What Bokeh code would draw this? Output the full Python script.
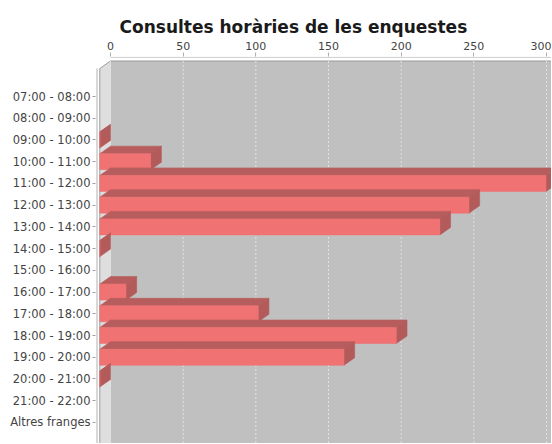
from bokeh.plotting import figure
from bokeh.models import ColumnDataSource, FixedTicker, Range1d
from bokeh.embed import file_html
from bokeh.resources import INLINE

# ---- data ----
categories = ["07:00 - 08:00", "08:00 - 09:00", "09:00 - 10:00", "10:00 - 11:00",
              "11:00 - 12:00", "12:00 - 13:00", "13:00 - 14:00", "14:00 - 15:00",
              "15:00 - 16:00", "16:00 - 17:00", "17:00 - 18:00", "18:00 - 19:00",
              "19:00 - 20:00", "20:00 - 21:00", "21:00 - 22:00", "Altres franges"]
values = [None, None, 0, 35, 307, 254, 234, 0, None, 18, 109, 204, 168, 0, None, None]
x_ticks = [0, 50, 100, 150, 200, 250, 300]
title_text = "Consultes horàries de les enquestes"

# ---- layout constants (pixels) ----
ORIGIN = 1                          # observed page offset of the figure
W, H = 551, 443
FRAME_L, FRAME_T = 96, 57          # page coords of frame left / top
PAGE_R, PAGE_B = 552, 444
ZERO_X = 111                        # page x of value 0 on back plane
FIRST_Y = 97                        # page y of first category
PX_PER_UNIT = 1.4533
PX_PER_CAT = 21.73
DEPTH_PX_X, DEPTH_PX_Y = 10.7, 7.5
BAR_PX = 16.0

x_start = -(ZERO_X - FRAME_L) / PX_PER_UNIT
x_end = (PAGE_R - ZERO_X) / PX_PER_UNIT
y_top = -(FIRST_Y - FRAME_T) / PX_PER_CAT
y_bot = (PAGE_B - FIRST_Y) / PX_PER_CAT

dx = DEPTH_PX_X / PX_PER_UNIT
dy = DEPTH_PX_Y / PX_PER_CAT
hh = BAR_PX / PX_PER_CAT / 2

p = figure(width=W, height=H, x_range=Range1d(x_start, x_end),
           y_range=Range1d(y_bot, y_top), output_backend="svg",
           toolbar_location=None, x_axis_location="above",
           min_border_left=FRAME_L - ORIGIN, min_border_right=0,
           min_border_top=FRAME_T - ORIGIN, min_border_bottom=0)
p.outline_line_color = None
p.background_fill_color = "white"
p.border_fill_color = "white"
p.xgrid.visible = False
p.ygrid.visible = False

p.title.text = title_text
p.title.align = "left"
p.title.offset = 24
p.title.text_font = "DejaVu Sans"
p.title.text_font_size = "17px"
p.title.text_font_style = "bold"
p.title.text_color = "#1a1a1a"
p.title.standoff = 3

# walls
front_top = y_top + (69 - FRAME_T) / PX_PER_CAT
back_top = front_top - dy
p.patch([0, x_end + 5, x_end + 5, 0], [back_top, back_top, y_bot + 1, y_bot + 1],
        fill_color="#c0c0c0", line_color=None)
p.patch([-dx, 0, 0, -dx], [front_top, back_top, y_bot + 1, y_bot + 1],
        fill_color="#dedede", line_color=None)
p.line([-dx, -dx, 0, x_end + 5], [y_bot + 1, front_top, back_top, back_top],
       line_color="#9a9a9a", line_width=1)

# gridlines on back wall
p.segment(x0=x_ticks, y0=[back_top] * len(x_ticks), x1=x_ticks, y1=[y_bot + 1] * len(x_ticks),
          line_color="#e2e2e2", line_dash="2 2", line_width=1)

# axis lines drawn manually
ax_x = x_start + 1.5 / PX_PER_UNIT
p.line([ax_x, ax_x], [front_top, y_bot + 1], line_color="#b0b0b0", line_width=1)
ax_y = y_top + 0.8 / PX_PER_CAT
p.line([0, x_end + 5], [ax_y, ax_y], line_color="#c8c8c8", line_width=1)

# 3D bars
xs, ys, fills = [], [], []
TOP_C, SIDE_C, FRONT_C = "#b75d5d", "#b35a5a", "#f07272"
for i, v in enumerate(values):
    if v is None:
        continue
    t, b = i - hh, i + hh
    xs.append([-dx, 0, v, v - dx]); ys.append([t, t - dy, t - dy, t]); fills.append(TOP_C)
    xs.append([v - dx, v, v, v - dx]); ys.append([t, t - dy, b - dy, b]); fills.append(SIDE_C)
    xs.append([-dx, v - dx, v - dx, -dx]); ys.append([t, t, b, b]); fills.append(FRONT_C)

src = ColumnDataSource(dict(xs=xs, ys=ys, fill=fills))
p.patches("xs", "ys", source=src, fill_color="fill", line_color="fill", line_width=0.6)

# axes styling
xa = p.xaxis[0]
xa.ticker = FixedTicker(ticks=x_ticks)
xa.axis_line_color = None
xa.major_tick_in = 0
xa.major_tick_out = 4
xa.minor_tick_line_color = None
xa.major_tick_line_color = "#b0b0b0"
xa.major_label_text_font = "DejaVu Sans"
xa.major_label_text_font_size = "11px"
xa.major_label_text_color = "#444444"
xa.major_label_standoff = 3

ya = p.yaxis[0]
ya.ticker = FixedTicker(ticks=list(range(len(categories))))
ya.major_label_overrides = {i: c for i, c in enumerate(categories)}
ya.axis_line_color = None
ya.major_tick_in = 0
ya.major_tick_out = 3
ya.minor_tick_line_color = None
ya.major_tick_line_color = "#a0a0a0"
ya.major_label_text_font = "DejaVu Sans"
ya.major_label_text_font_size = "11.5px"
ya.major_label_text_color = "#444444"
ya.major_label_standoff = 2

open("out.html", "w").write(file_html(p, INLINE))
